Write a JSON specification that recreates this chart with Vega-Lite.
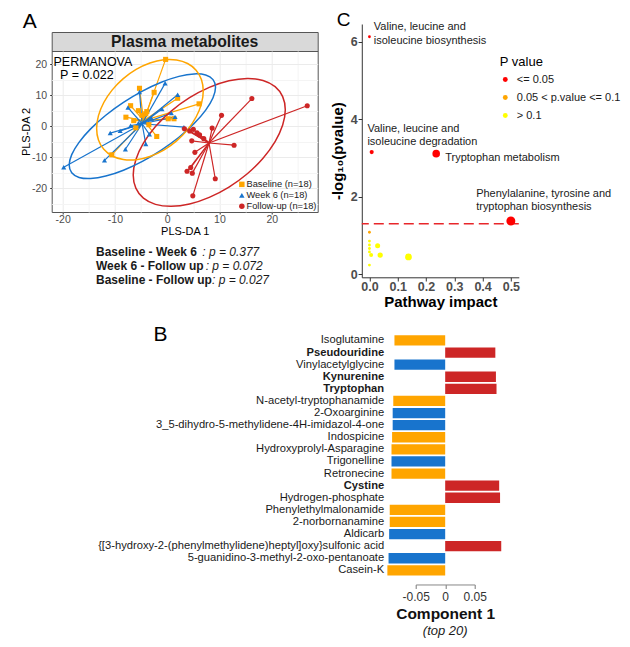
{
 "$schema": "https://vega.github.io/schema/vega-lite/v6.json",
 "background": "white",
 "padding": {"left": 18.7, "top": 11, "right": 0, "bottom": 0},
 "spacing": 14.3,
 "config": {
  "font": "Liberation Sans",
  "view": {"stroke": null},
  "axis": {"labelFont": "Liberation Sans", "titleFont": "Liberation Sans", "labelOverlap": false, "labelFlush": false},
  "legend": {"labelFont": "Liberation Sans", "titleFont": "Liberation Sans"},
  "title": {"font": "Liberation Sans", "subtitleFont": "Liberation Sans"},
  "text": {"font": "Liberation Sans"}
 },
 "resolve": {"scale": {"color": "independent", "shape": "independent", "size": "independent", "stroke": "independent"}, "legend": {"color": "independent", "shape": "independent", "size": "independent", "stroke": "independent"}},
 "datasets": {
  "spider": [
   {"g": "Baseline", "x": -0.3, "y": 21.5, "cx": -4.5, "cy": 1.8},
   {"g": "Baseline", "x": -7.0, "y": 6.6, "cx": -4.5, "cy": 1.8},
   {"g": "Baseline", "x": -7.9, "y": 2.9, "cx": -4.5, "cy": 1.8},
   {"g": "Baseline", "x": -6.4, "y": 1.8, "cx": -4.5, "cy": 1.8},
   {"g": "Baseline", "x": -4.1, "y": 4.0, "cx": -4.5, "cy": 1.8},
   {"g": "Baseline", "x": -2.5, "y": 10.9, "cx": -4.5, "cy": 1.8},
   {"g": "Baseline", "x": -2.0, "y": -3.3, "cx": -4.5, "cy": 1.8},
   {"g": "Baseline", "x": 6.1, "y": 7.2, "cx": -4.5, "cy": 1.8},
   {"g": "Baseline", "x": 0.2, "y": 2.4, "cx": -4.5, "cy": 1.8},
   {"g": "Baseline", "x": 1.3, "y": 2.4, "cx": -4.5, "cy": 1.8},
   {"g": "Baseline", "x": 2.0, "y": 9.0, "cx": -4.5, "cy": 1.8},
   {"g": "Baseline", "x": -3.9, "y": 4.7, "cx": -4.5, "cy": 1.8},
   {"g": "Baseline", "x": -10.6, "y": -9.2, "cx": -4.5, "cy": 1.8},
   {"g": "Baseline", "x": -5.3, "y": 12.2, "cx": -4.5, "cy": 1.8},
   {"g": "Baseline", "x": -6.0, "y": -0.5, "cx": -4.5, "cy": 1.8},
   {"g": "Baseline", "x": -3.5, "y": 0.5, "cx": -4.5, "cy": 1.8},
   {"g": "Baseline", "x": -4.8, "y": 3.5, "cx": -4.5, "cy": 1.8},
   {"g": "Baseline", "x": -5.5, "y": 5.0, "cx": -4.5, "cy": 1.8},
   {"g": "Week 6", "x": -19.8, "y": -13.2, "cx": -4.8, "cy": 0.8},
   {"g": "Week 6", "x": -12.0, "y": -11.0, "cx": -4.8, "cy": 0.8},
   {"g": "Week 6", "x": -8.0, "y": -7.4, "cx": -4.8, "cy": 0.8},
   {"g": "Week 6", "x": -10.9, "y": -2.2, "cx": -4.8, "cy": 0.8},
   {"g": "Week 6", "x": -4.1, "y": -5.7, "cx": -4.8, "cy": 0.8},
   {"g": "Week 6", "x": 3.2, "y": -0.3, "cx": -4.8, "cy": 0.8},
   {"g": "Week 6", "x": -0.4, "y": 13.8, "cx": -4.8, "cy": 0.8},
   {"g": "Week 6", "x": -5.3, "y": 11.0, "cx": -4.8, "cy": 0.8},
   {"g": "Week 6", "x": 2.0, "y": 10.1, "cx": -4.8, "cy": 0.8},
   {"g": "Week 6", "x": 0.8, "y": 4.2, "cx": -4.8, "cy": 0.8},
   {"g": "Week 6", "x": -7.0, "y": 0.2, "cx": -4.8, "cy": 0.8},
   {"g": "Week 6", "x": -9.0, "y": -1.5, "cx": -4.8, "cy": 0.8},
   {"g": "Week 6", "x": -5.5, "y": 1.0, "cx": -4.8, "cy": 0.8},
   {"g": "Week 6", "x": -3.0, "y": 2.5, "cx": -4.8, "cy": 0.8},
   {"g": "Week 6", "x": -1.0, "y": 5.5, "cx": -4.8, "cy": 0.8},
   {"g": "Week 6", "x": -7.5, "y": 6.0, "cx": -4.8, "cy": 0.8},
   {"g": "Week 6", "x": -3.4, "y": -2.6, "cx": -4.8, "cy": 0.8},
   {"g": "Week 6", "x": 1.5, "y": 3.0, "cx": -4.8, "cy": 0.8},
   {"g": "Follow-up", "x": 26.8, "y": 6.6, "cx": 8.0, "cy": -5.4},
   {"g": "Follow-up", "x": 16.2, "y": 8.9, "cx": 8.0, "cy": -5.4},
   {"g": "Follow-up", "x": 10.4, "y": 3.5, "cx": 8.0, "cy": -5.4},
   {"g": "Follow-up", "x": 8.6, "y": -0.6, "cx": 8.0, "cy": -5.4},
   {"g": "Follow-up", "x": 12.8, "y": -6.1, "cx": 8.0, "cy": -5.4},
   {"g": "Follow-up", "x": 9.2, "y": -16.9, "cx": 8.0, "cy": -5.4},
   {"g": "Follow-up", "x": 4.9, "y": -22.4, "cx": 8.0, "cy": -5.4},
   {"g": "Follow-up", "x": 4.8, "y": -15.1, "cx": 8.0, "cy": -5.4},
   {"g": "Follow-up", "x": 3.8, "y": -14.5, "cx": 8.0, "cy": -5.4},
   {"g": "Follow-up", "x": 4.5, "y": -13.3, "cx": 8.0, "cy": -5.4},
   {"g": "Follow-up", "x": 5.3, "y": -8.4, "cx": 8.0, "cy": -5.4},
   {"g": "Follow-up", "x": 4.7, "y": -4.7, "cx": 8.0, "cy": -5.4},
   {"g": "Follow-up", "x": 5.7, "y": -2.1, "cx": 8.0, "cy": -5.4},
   {"g": "Follow-up", "x": 4.3, "y": -1.5, "cx": 8.0, "cy": -5.4},
   {"g": "Follow-up", "x": 6.2, "y": -2.8, "cx": 8.0, "cy": -5.4},
   {"g": "Follow-up", "x": 3.3, "y": -0.8, "cx": 8.0, "cy": -5.4},
   {"g": "Follow-up", "x": 5.0, "y": -1.0, "cx": 8.0, "cy": -5.4},
   {"g": "Follow-up", "x": 7.0, "y": -4.0, "cx": 8.0, "cy": -5.4}
  ],
  "ellipse": [
   {"g": "Follow-up", "i": 0, "x": 22.6, "y": 5.3},
   {"g": "Follow-up", "i": 1, "x": 22.1, "y": 9.52},
   {"g": "Follow-up", "i": 2, "x": 20.65, "y": 12.74},
   {"g": "Follow-up", "i": 3, "x": 18.34, "y": 14.74},
   {"g": "Follow-up", "i": 4, "x": 15.33, "y": 15.38},
   {"g": "Follow-up", "i": 5, "x": 11.82, "y": 14.62},
   {"g": "Follow-up", "i": 6, "x": 8.05, "y": 12.5},
   {"g": "Follow-up", "i": 7, "x": 4.28, "y": 9.18},
   {"g": "Follow-up", "i": 8, "x": 0.77, "y": 4.88},
   {"g": "Follow-up", "i": 9, "x": -2.24, "y": -0.1},
   {"g": "Follow-up", "i": 10, "x": -4.55, "y": -5.44},
   {"g": "Follow-up", "i": 11, "x": -6.0, "y": -10.76},
   {"g": "Follow-up", "i": 12, "x": -6.5, "y": -15.7},
   {"g": "Follow-up", "i": 13, "x": -6.0, "y": -19.92},
   {"g": "Follow-up", "i": 14, "x": -4.55, "y": -23.14},
   {"g": "Follow-up", "i": 15, "x": -2.24, "y": -25.14},
   {"g": "Follow-up", "i": 16, "x": 0.77, "y": -25.78},
   {"g": "Follow-up", "i": 17, "x": 4.28, "y": -25.02},
   {"g": "Follow-up", "i": 18, "x": 8.05, "y": -22.9},
   {"g": "Follow-up", "i": 19, "x": 11.82, "y": -19.58},
   {"g": "Follow-up", "i": 20, "x": 15.33, "y": -15.28},
   {"g": "Follow-up", "i": 21, "x": 18.34, "y": -10.3},
   {"g": "Follow-up", "i": 22, "x": 20.65, "y": -4.96},
   {"g": "Follow-up", "i": 23, "x": 22.1, "y": 0.36},
   {"g": "Week 6", "i": 0, "x": 9.25, "y": 12.5},
   {"g": "Week 6", "i": 1, "x": 8.77, "y": 14.99},
   {"g": "Week 6", "i": 2, "x": 7.37, "y": 16.48},
   {"g": "Week 6", "i": 3, "x": 5.15, "y": 16.83},
   {"g": "Week 6", "i": 4, "x": 2.25, "y": 16.04},
   {"g": "Week 6", "i": 5, "x": -1.13, "y": 14.15},
   {"g": "Week 6", "i": 6, "x": -4.75, "y": 11.3},
   {"g": "Week 6", "i": 7, "x": -8.37, "y": 7.67},
   {"g": "Week 6", "i": 8, "x": -11.75, "y": 3.54},
   {"g": "Week 6", "i": 9, "x": -14.65, "y": -0.85},
   {"g": "Week 6", "i": 10, "x": -16.87, "y": -5.18},
   {"g": "Week 6", "i": 11, "x": -18.27, "y": -9.15},
   {"g": "Week 6", "i": 12, "x": -18.75, "y": -12.5},
   {"g": "Week 6", "i": 13, "x": -18.27, "y": -14.99},
   {"g": "Week 6", "i": 14, "x": -16.87, "y": -16.48},
   {"g": "Week 6", "i": 15, "x": -14.65, "y": -16.83},
   {"g": "Week 6", "i": 16, "x": -11.75, "y": -16.04},
   {"g": "Week 6", "i": 17, "x": -8.37, "y": -14.15},
   {"g": "Week 6", "i": 18, "x": -4.75, "y": -11.3},
   {"g": "Week 6", "i": 19, "x": -1.13, "y": -7.67},
   {"g": "Week 6", "i": 20, "x": 2.25, "y": -3.54},
   {"g": "Week 6", "i": 21, "x": 5.15, "y": 0.85},
   {"g": "Week 6", "i": 22, "x": 7.37, "y": 5.18},
   {"g": "Week 6", "i": 23, "x": 8.77, "y": 9.15},
   {"g": "Baseline", "i": 0, "x": 6.9, "y": 11.3},
   {"g": "Baseline", "i": 1, "x": 6.55, "y": 15.0},
   {"g": "Baseline", "i": 2, "x": 5.53, "y": 18.03},
   {"g": "Baseline", "i": 3, "x": 3.91, "y": 20.18},
   {"g": "Baseline", "i": 4, "x": 1.8, "y": 21.33},
   {"g": "Baseline", "i": 5, "x": -0.66, "y": 21.39},
   {"g": "Baseline", "i": 6, "x": -3.3, "y": 20.35},
   {"g": "Baseline", "i": 7, "x": -5.94, "y": 18.29},
   {"g": "Baseline", "i": 8, "x": -8.4, "y": 15.33},
   {"g": "Baseline", "i": 9, "x": -10.51, "y": 11.7},
   {"g": "Baseline", "i": 10, "x": -12.13, "y": 7.63},
   {"g": "Baseline", "i": 11, "x": -13.15, "y": 3.4},
   {"g": "Baseline", "i": 12, "x": -13.5, "y": -0.7},
   {"g": "Baseline", "i": 13, "x": -13.15, "y": -4.4},
   {"g": "Baseline", "i": 14, "x": -12.13, "y": -7.43},
   {"g": "Baseline", "i": 15, "x": -10.51, "y": -9.58},
   {"g": "Baseline", "i": 16, "x": -8.4, "y": -10.73},
   {"g": "Baseline", "i": 17, "x": -5.94, "y": -10.79},
   {"g": "Baseline", "i": 18, "x": -3.3, "y": -9.75},
   {"g": "Baseline", "i": 19, "x": -0.66, "y": -7.69},
   {"g": "Baseline", "i": 20, "x": 1.8, "y": -4.73},
   {"g": "Baseline", "i": 21, "x": 3.91, "y": -1.1},
   {"g": "Baseline", "i": 22, "x": 5.53, "y": 2.97},
   {"g": "Baseline", "i": 23, "x": 6.55, "y": 7.2}
  ],
  "notes": [
   {"l": 1, "b": "Baseline - Week 6", "p": ": p = 0.377"},
   {"l": 2, "b": "Week 6 - Follow up", "p": ": p = 0.072"},
   {"l": 3, "b": "Baseline - Follow up", "p": ": p = 0.027"}
  ],
  "path": [
   {"name": "bio", "lab": "Valine, leucine and\nisoleucine biosynthesis", "impact": 0.0, "lp": 6.13, "cat": "<= 0.05"},
   {"name": "deg", "lab": "Valine, leucine and\nisoleucine degradation", "impact": 0.008, "lp": 3.15, "cat": "<= 0.05"},
   {"name": "trp", "lab": "Tryptophan metabolism", "impact": 0.236, "lp": 3.11, "cat": "<= 0.05"},
   {"name": "phe", "lab": "Phenylalanine, tyrosine and\ntryptophan biosynthesis", "impact": 0.5, "lp": 1.37, "cat": "<= 0.05"},
   {"name": "o1", "lab": "", "impact": 0.0, "lp": 1.08, "cat": "0.05 < p.value <= 0.1"},
   {"name": "y1", "lab": "", "impact": 0.0, "lp": 0.85, "cat": "> 0.1"},
   {"name": "y2", "lab": "", "impact": 0.0, "lp": 0.75, "cat": "> 0.1"},
   {"name": "y3", "lab": "", "impact": 0.0, "lp": 0.66, "cat": "> 0.1"},
   {"name": "y4", "lab": "", "impact": 0.0, "lp": 0.57, "cat": "> 0.1"},
   {"name": "y5", "lab": "", "impact": 0.006, "lp": 0.49, "cat": "> 0.1"},
   {"name": "y6", "lab": "", "impact": 0.0, "lp": 0.23, "cat": "> 0.1"},
   {"name": "y7", "lab": "", "impact": 0.029, "lp": 0.73, "cat": "> 0.1"},
   {"name": "y8", "lab": "", "impact": 0.038, "lp": 0.49, "cat": "> 0.1"},
   {"name": "y9", "lab": "", "impact": 0.138, "lp": 0.44, "cat": "> 0.1"}
  ],
  "bars": [
   {"name": "Isoglutamine", "v": -0.086, "g": "Baseline"},
   {"name": "Pseudouridine", "v": 0.085, "g": "Follow-up"},
   {"name": "Vinylacetylglycine", "v": -0.086, "g": "Week 6"},
   {"name": "Kynurenine", "v": 0.086, "g": "Follow-up"},
   {"name": "Tryptophan", "v": 0.087, "g": "Follow-up"},
   {"name": "N-acetyl-tryptophanamide", "v": -0.088, "g": "Baseline"},
   {"name": "2-Oxoarginine", "v": -0.089, "g": "Week 6"},
   {"name": "3_5-dihydro-5-methylidene-4H-imidazol-4-one", "v": -0.089, "g": "Week 6"},
   {"name": "Indospicine", "v": -0.09, "g": "Baseline"},
   {"name": "Hydroxyprolyl-Asparagine", "v": -0.091, "g": "Baseline"},
   {"name": "Trigonelline", "v": -0.091, "g": "Week 6"},
   {"name": "Retronecine", "v": -0.091, "g": "Baseline"},
   {"name": "Cystine", "v": 0.0915, "g": "Follow-up"},
   {"name": "Hydrogen-phosphate", "v": 0.093, "g": "Follow-up"},
   {"name": "Phenylethylmalonamide", "v": -0.094, "g": "Baseline"},
   {"name": "2-norbornanamine", "v": -0.094, "g": "Baseline"},
   {"name": "Aldicarb", "v": -0.095, "g": "Week 6"},
   {"name": "{[3-hydroxy-2-(phenylmethylidene)heptyl]oxy}sulfonic acid", "v": 0.095, "g": "Follow-up"},
   {"name": "5-guanidino-3-methyl-2-oxo-pentanoate", "v": -0.096, "g": "Week 6"},
   {"name": "Casein-K", "v": -0.098, "g": "Baseline"}
  ]
 },
 "vconcat": [
  {
   "spacing": 11.1,
   "resolve": {"scale": {"color": "independent", "shape": "independent", "size": "independent", "stroke": "independent"}, "legend": {"color": "independent", "shape": "independent", "size": "independent", "stroke": "independent"}},
   "hconcat": [
    {
     "spacing": 8.5,
     "resolve": {"scale": {"color": "independent", "shape": "independent", "size": "independent", "stroke": "independent"}, "legend": {"color": "independent", "shape": "independent", "size": "independent", "stroke": "independent"}},
     "vconcat": [
      {
       "spacing": 0,
       "bounds": "flush",
       "resolve": {"scale": {"color": "independent", "shape": "independent", "size": "independent", "stroke": "independent"}, "legend": {"color": "independent", "shape": "independent", "size": "independent", "stroke": "independent"}},
       "vconcat": [
        {
         "width": 266, "height": 8,
         "title": {"text": "A", "anchor": "start", "frame": "group", "fontSize": 21, "fontWeight": "normal", "color": "#000000", "dx": -29, "offset": -25, "baseline": "alphabetic"},
         "data": {"values": [{"a": 1}]},
         "mark": {"type": "point", "opacity": 0},
         "encoding": {}
        },
        {
         "width": 266, "height": 19,
         "view": {"fill": "#D9D9D9", "stroke": "#555555", "strokeWidth": 1},
         "data": {"values": [{"label": "Plasma metabolites"}]},
         "mark": {"type": "text", "fontSize": 15.8, "fontWeight": "bold", "color": "#1a1a1a", "baseline": "middle", "align": "center"},
         "encoding": {"text": {"field": "label", "type": "nominal"}}
        },
        {
         "width": 266, "height": 161,
         "view": {"stroke": "#555555", "strokeWidth": 1},
         "layer": [
          {
           "data": {"name": "spider"},
           "mark": {"type": "rule", "strokeWidth": 1.2},
           "encoding": {
            "x": {"field": "x", "type": "quantitative", "scale": {"domain": [-22.1, 28.8], "nice": false, "zero": false},
              "axis": {"values": [-20, -15, -10, -5, 0, 5, 10, 15, 20, 25], "tickCount": 20, "labelExpr": "datum.value % 10 == 0 ? ('' + datum.value) : ''", "grid": true, "labelOverlap": false, "labelFlush": false,
                "gridColor": {"condition": {"test": "datum.value % 10 == 0", "value": "#EBEBEB"}, "value": "#F4F4F4"},
                "tickOpacity": {"condition": {"test": "datum.value % 10 == 0", "value": 1}, "value": 0},
                "tickColor": "#333333", "tickSize": 2, "domain": false, "labelFontSize": 10.5, "labelColor": "#4D4D4D", "labelPadding": 0.5,
                "title": "PLS-DA 1", "titleFontSize": 11, "titleFontWeight": "normal", "titleColor": "#000000", "titlePadding": 0}},
            "y": {"field": "y", "type": "quantitative", "scale": {"domain": [-27.6, 24.2], "nice": false, "zero": false},
              "axis": {"values": [-25, -20, -15, -10, -5, 0, 5, 10, 15, 20], "tickCount": 20, "labelExpr": "datum.value % 10 == 0 ? ('' + datum.value) : ''", "grid": true, "labelOverlap": false, "labelFlush": false,
                "gridColor": {"condition": {"test": "datum.value % 10 == 0", "value": "#EBEBEB"}, "value": "#F4F4F4"},
                "tickOpacity": {"condition": {"test": "datum.value % 10 == 0", "value": 1}, "value": 0},
                "tickColor": "#333333", "tickSize": 2, "domain": false, "labelFontSize": 10.5, "labelColor": "#4D4D4D", "labelPadding": 3,
                "title": "PLS-DA 2", "titleFontSize": 11, "titleFontWeight": "normal", "titleColor": "#000000", "titlePadding": 0.5}},
            "x2": {"field": "cx"},
            "y2": {"field": "cy"},
            "stroke": {"field": "g", "type": "nominal", "scale": {"domain": ["Follow-up", "Week 6", "Baseline"], "range": ["#CD2626", "#1874CD", "#FFA500"]}, "legend": null}
           }
          },
          {
           "data": {"name": "ellipse"},
           "mark": {"type": "line", "interpolate": "cardinal-closed", "strokeWidth": 1.5},
           "encoding": {
            "x": {"field": "x", "type": "quantitative", "scale": {"domain": [-22.1, 28.8], "nice": false, "zero": false}},
            "y": {"field": "y", "type": "quantitative", "scale": {"domain": [-27.6, 24.2], "nice": false, "zero": false}},
            "order": {"field": "i", "type": "quantitative"},
            "stroke": {"field": "g", "type": "nominal", "scale": {"domain": ["Follow-up", "Week 6", "Baseline"], "range": ["#CD2626", "#1874CD", "#FFA500"]}, "legend": null}
           }
          },
          {
           "data": {"name": "spider"},
           "mark": {"type": "point", "filled": true, "opacity": 1, "size": 26},
           "encoding": {
            "x": {"field": "x", "type": "quantitative", "scale": {"domain": [-22.1, 28.8], "nice": false, "zero": false}},
            "y": {"field": "y", "type": "quantitative", "scale": {"domain": [-27.6, 24.2], "nice": false, "zero": false}},
            "color": {"field": "g", "type": "nominal", "scale": {"domain": ["Baseline", "Week 6", "Follow-up"], "range": ["#FFA500", "#1874CD", "#CD2626"]},
              "legend": {"orient": "none", "legendX": 185.5, "legendY": 128.7, "title": null, "labelExpr": "datum.label + ' (n=18)'", "labelFontSize": 9.3, "labelColor": "#1a1a1a", "symbolSize": 30, "rowPadding": 1, "padding": 0, "labelOffset": 0}},
            "shape": {"field": "g", "type": "nominal", "scale": {"domain": ["Baseline", "Week 6", "Follow-up"], "range": ["square", "triangle-up", "circle"]},
              "legend": {"orient": "none", "legendX": 185.5, "legendY": 128.7, "title": null, "labelExpr": "datum.label + ' (n=18)'", "labelFontSize": 9.3, "labelColor": "#1a1a1a", "symbolSize": 30, "rowPadding": 1, "padding": 0, "labelOffset": 0}}
           }
          },
          {
           "data": {"values": [{"t": "PERMANOVA", "x": -21.76, "y": 20.7}, {"t": "P = 0.022", "x": -20.5, "y": 16.5}]},
           "mark": {"type": "text", "align": "left", "baseline": "middle", "fontSize": 12.5, "color": "#000000"},
           "encoding": {
            "x": {"field": "x", "type": "quantitative", "scale": {"domain": [-22.1, 28.8], "nice": false, "zero": false}},
            "y": {"field": "y", "type": "quantitative", "scale": {"domain": [-27.6, 24.2], "nice": false, "zero": false}},
            "text": {"field": "t", "type": "nominal"}
           }
          }
         ]
        }
       ]
      },
      {
       "width": 266, "height": 41,
       "data": {"name": "notes"},
       "encoding": {"y": {"field": "l", "type": "ordinal", "axis": null, "scale": {"type": "point", "padding": 0.5}}},
       "layer": [
        {"mark": {"type": "text", "align": "left", "baseline": "middle", "fontSize": 12, "fontWeight": "bold", "color": "#1a1a1a", "dx": -88.7}, "encoding": {"text": {"field": "b", "type": "nominal"}}},
        {"transform": [{"filter": "datum.l == 1"}], "mark": {"type": "text", "align": "left", "baseline": "middle", "fontSize": 12, "fontStyle": "italic", "color": "#1a1a1a", "dx": 17.6}, "encoding": {"text": {"field": "p", "type": "nominal"}}},
        {"transform": [{"filter": "datum.l == 2"}], "mark": {"type": "text", "align": "left", "baseline": "middle", "fontSize": 12, "fontStyle": "italic", "color": "#1a1a1a", "dx": 21}, "encoding": {"text": {"field": "p", "type": "nominal"}}},
        {"transform": [{"filter": "datum.l == 3"}], "mark": {"type": "text", "align": "left", "baseline": "middle", "fontSize": 12, "fontStyle": "italic", "color": "#1a1a1a", "dx": 27.3}, "encoding": {"text": {"field": "p", "type": "nominal"}}}
       ]
      }
     ]
    },
    {
     "width": 157, "height": 253.3,
     "title": {"text": "C", "anchor": "start", "frame": "group", "fontSize": 19, "fontWeight": "normal", "color": "#000000", "dx": -25, "offset": -24.2, "baseline": "alphabetic"},
     "layer": [
      {
       "data": {"values": [{"thr": 1.301}]},
       "mark": {"type": "rule", "color": "#E8262A", "strokeWidth": 1.5, "strokeDash": [10, 5]},
       "encoding": {
        "y": {"field": "thr", "type": "quantitative", "scale": {"domain": [-0.085, 6.46], "nice": false, "zero": false},
          "axis": {"values": [0, 2, 4, 6], "tickCount": 10, "format": "d", "grid": false, "labelOverlap": false, "labelFlush": false, "labelFontSize": 12.5, "labelFontWeight": "bold", "labelColor": "#4D4D4D", "labelPadding": 1, "tickColor": "#333333", "tickSize": 3.7, "domainColor": "#333333",
            "title": "-log₁₀(pvalue)", "titleFontSize": 15, "titleFontWeight": "bold", "titleColor": "#000000", "titlePadding": 5}}
       }
      },
      {
       "data": {"name": "path"},
       "mark": {"type": "circle", "opacity": 1},
       "encoding": {
        "x": {"field": "impact", "type": "quantitative", "scale": {"domain": [-0.027, 0.528], "nice": false, "zero": false},
          "axis": {"values": [0, 0.1, 0.2, 0.3, 0.4, 0.5], "tickCount": 12, "format": ".1f", "grid": false, "labelOverlap": false, "labelFlush": false, "labelFontSize": 12.5, "labelFontWeight": "bold", "labelColor": "#4D4D4D", "labelPadding": -1, "tickColor": "#333333", "tickSize": 3.7, "domainColor": "#333333",
            "title": "Pathway impact", "titleFontSize": 15, "titleFontWeight": "bold", "titleColor": "#000000", "titlePadding": 1.5}},
        "y": {"field": "lp", "type": "quantitative", "scale": {"domain": [-0.085, 6.46], "nice": false, "zero": false},
          "axis": {"values": [0, 2, 4, 6], "tickCount": 10, "format": "d", "grid": false, "labelOverlap": false, "labelFlush": false, "labelFontSize": 12.5, "labelFontWeight": "bold", "labelColor": "#4D4D4D", "labelPadding": 1, "tickColor": "#333333", "tickSize": 3.7, "domainColor": "#333333",
            "title": "-log₁₀(pvalue)", "titleFontSize": 15, "titleFontWeight": "bold", "titleColor": "#000000", "titlePadding": 5}},
        "color": {"field": "cat", "type": "nominal", "scale": {"domain": ["<= 0.05", "0.05 < p.value <= 0.1", "> 0.1"], "range": ["#FF0000", "#FFA500", "#FFFF00"]},
          "legend": {"orient": "none", "legendX": 138, "legendY": 32, "title": "P value", "titleFontSize": 13, "titleFontWeight": "normal", "titleColor": "#000000", "titlePadding": 5, "labelFontSize": 11, "labelColor": "#1a1a1a", "symbolType": "circle", "symbolSize": 24, "rowPadding": 6, "labelOffset": 6, "padding": 0, "symbolStrokeWidth": 0}},
        "size": {"field": "impact", "type": "quantitative", "scale": {"type": "sqrt", "domain": [0, 0.5], "range": [8, 80]}, "legend": null}
       }
      },
      {
       "data": {"name": "path"},
       "transform": [{"filter": "datum.name == 'bio'"}],
       "mark": {"type": "text", "align": "left", "baseline": "middle", "fontSize": 11, "color": "#1a1a1a", "lineBreak": "\n", "lineHeight": 13.3, "dx": 4.4, "dy": -9.5},
       "encoding": {"x": {"field": "impact", "type": "quantitative"}, "y": {"field": "lp", "type": "quantitative"}, "text": {"field": "lab", "type": "nominal"}}
      },
      {
       "data": {"name": "path"},
       "transform": [{"filter": "datum.name == 'deg'"}],
       "mark": {"type": "text", "align": "left", "baseline": "middle", "fontSize": 11, "color": "#1a1a1a", "lineBreak": "\n", "lineHeight": 13.3, "dx": -4.3, "dy": -23.3},
       "encoding": {"x": {"field": "impact", "type": "quantitative"}, "y": {"field": "lp", "type": "quantitative"}, "text": {"field": "lab", "type": "nominal"}}
      },
      {
       "data": {"name": "path"},
       "transform": [{"filter": "datum.name == 'trp'"}],
       "mark": {"type": "text", "align": "left", "baseline": "middle", "fontSize": 11, "color": "#1a1a1a", "dx": 9, "dy": 4},
       "encoding": {"x": {"field": "impact", "type": "quantitative"}, "y": {"field": "lp", "type": "quantitative"}, "text": {"field": "lab", "type": "nominal"}}
      },
      {
       "data": {"name": "path"},
       "transform": [{"filter": "datum.name == 'phe'"}],
       "mark": {"type": "text", "align": "left", "baseline": "middle", "fontSize": 11, "color": "#1a1a1a", "lineBreak": "\n", "lineHeight": 13.3, "dx": -34.7, "dy": -27.3},
       "encoding": {"x": {"field": "impact", "type": "quantitative"}, "y": {"field": "lp", "type": "quantitative"}, "text": {"field": "lab", "type": "nominal"}}
      }
     ]
    }
   ]
  },
  {
   "spacing": 0,
   "resolve": {"scale": {"color": "independent", "shape": "independent", "size": "independent", "stroke": "independent"}, "legend": {"color": "independent", "shape": "independent", "size": "independent", "stroke": "independent"}},
   "hconcat": [
    {"width": 44.3, "height": 10, "data": {"values": [{"a": 1}]}, "mark": {"type": "point", "opacity": 0}, "encoding": {}},
    {
     "width": 59,
     "height": {"step": 12.1},
     "data": {"name": "bars"},
     "title": {"text": "(top 20)", "orient": "bottom", "fontSize": 13, "fontStyle": "italic", "fontWeight": "normal", "anchor": "middle", "frame": "group", "offset": 3, "color": "#1a1a1a"},
     "mark": {"type": "bar"},
     "encoding": {
      "y": {"field": "name", "type": "nominal", "sort": null, "scale": {"paddingInner": 0.15, "paddingOuter": 0},
        "axis": {"title": "B", "offset": 30, "ticks": false, "domain": false, "labelFontSize": 11.2, "labelColor": "#1a1a1a", "labelLimit": 400, "labelPadding": 2, "labelOverlap": false,
          "labelFontWeight": {"condition": {"test": "indexof(['Pseudouridine','Kynurenine','Tryptophan','Cystine'], datum.value) >= 0", "value": "bold"}, "value": "normal"},
          "titleAngle": 0, "titleFontSize": 21, "titleFontWeight": "normal", "titleColor": "#000000", "titleX": -232.7, "titleY": 5, "titleAlign": "left", "titleBaseline": "alphabetic"}},
      "x": {"field": "v", "type": "quantitative", "stack": null, "scale": {"domain": [-0.05, 0.05], "nice": false},
        "axis": {"values": [-0.05, 0, 0.05], "tickCount": 5, "labelExpr": "datum.value == 0 ? '0' : (datum.value < 0 ? '-' + format(-datum.value, '.2f') : format(datum.value, '.2f'))", "labelOverlap": false, "labelFlush": false, "offset": 9, "grid": false, "tickSize": 4, "tickColor": "#777777", "domainColor": "#888888", "labelFontSize": 12, "labelColor": "#333333", "labelPadding": 3,
          "title": "Component 1", "titleFontSize": 15.5, "titleFontWeight": "bold", "titleColor": "#111111", "titlePadding": 4}},
      "color": {"field": "g", "type": "nominal", "scale": {"domain": ["Baseline", "Week 6", "Follow-up"], "range": ["#FFA500", "#1874CD", "#CD2626"]}, "legend": null}
     }
    }
   ]
  }
 ]
}
